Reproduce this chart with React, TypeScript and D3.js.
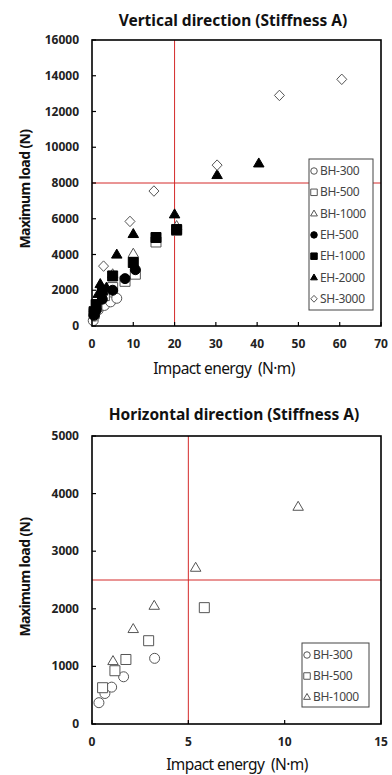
import React from "react";
import * as d3 from "d3";

type Pt = [number, number];

// ---- Top chart data (Vertical direction) ----
const topSeriesNames = ["BH-300", "BH-500", "BH-1000", "EH-500", "EH-1000", "EH-2000", "SH-3000"];
const topBH300: Pt[] = [[0.3, 300], [0.6, 550], [1.5, 900], [3, 1150], [4.5, 1350], [6, 1550]];
const topBH500: Pt[] = [[0.5, 700], [1.2, 1100], [3, 1700], [5, 2150], [8, 2500], [10.5, 2900], [15.5, 4700], [20.5, 5350]];
const topBH1000: Pt[] = [[0.8, 900], [2, 1500], [3, 2000], [5, 2900], [10, 4050], [20.5, 5600]];
const topEH500: Pt[] = [[0.5, 600], [1, 900], [2.5, 1500], [5, 2000], [8, 2650], [10.5, 3150]];
const topEH1000: Pt[] = [[0.5, 800], [1, 1200], [2.5, 2000], [5, 2800], [10, 3550], [15.5, 4950], [20.5, 5400]];
const topEH2000: Pt[] = [[0.6, 1000], [1.5, 1800], [2, 2350], [3.5, 2150], [6, 4000], [10, 5150], [20, 6250], [30.3, 8450], [40.4, 9100]];
const topSH3000: Pt[] = [[2.8, 3350], [9.2, 5850], [15, 7550], [30.3, 9000], [45.4, 12900], [60.5, 13800]];
const topXTicks = [0, 10, 20, 30, 40, 50, 60, 70];
const topYTicks = [0, 2000, 4000, 6000, 8000, 10000, 12000, 14000, 16000];
const topRefX = 20;
const topRefY = 8000;

// ---- Bottom chart data (Horizontal direction) ----
const botSeriesNames = ["BH-300", "BH-500", "BH-1000"];
const botBH300: Pt[] = [[0.36, 370], [0.67, 530], [1.02, 640], [1.64, 820], [3.25, 1140]];
const botBH500: Pt[] = [[0.55, 630], [1.19, 925], [1.76, 1120], [2.94, 1446], [5.83, 2020]];
const botBH1000: Pt[] = [[1.09, 1094], [2.14, 1650], [3.23, 2054], [5.38, 2714], [10.7, 3773]];
const botXTicks = [0, 5, 10, 15];
const botYTicks = [0, 1000, 2000, 3000, 4000, 5000];
const botRefX = 5;
const botRefY = 2500;

type Shape = "circle" | "square" | "triangle" | "diamond";
const styleFor: Record<string, { shape: Shape; filled: boolean }> = {
  "BH-300": { shape: "circle", filled: false },
  "BH-500": { shape: "square", filled: false },
  "BH-1000": { shape: "triangle", filled: false },
  "EH-500": { shape: "circle", filled: true },
  "EH-1000": { shape: "square", filled: true },
  "EH-2000": { shape: "triangle", filled: true },
  "SH-3000": { shape: "diamond", filled: false },
};

function markerPath(shape: Shape, s: number): string {
  const h = s / 2;
  if (shape === "circle") {
    const p = d3.path();
    p.arc(0, 0, h, 0, Math.PI * 2);
    p.closePath();
    return p.toString();
  }
  if (shape === "square") return `M${-h},${-h}H${h}V${h}H${-h}Z`;
  if (shape === "triangle") {
    const th = s * 0.9;
    return `M0,${-th * 0.6}L${h * 1.05},${th * 0.4}L${-h * 1.05},${th * 0.4}Z`;
  }
  return `M0,${-h * 1.05}L${h},0L0,${h * 1.05}L${-h},0Z`;
}

function Marker({ name, x, y, s }: { name: string; x: number; y: number; s: number }) {
  const st = styleFor[name];
  return (
    <path
      d={markerPath(st.shape, s)}
      transform={`translate(${x},${y})`}
      fill={st.filled ? "#000" : "#fff"}
      stroke={st.filled ? "#000" : "#555"}
      strokeWidth={1}
    />
  );
}

interface PanelProps {
  title: string;
  titleY: number;
  titleX: number;
  left: number;
  right: number;
  top: number;
  bottom: number;
  xMax: number;
  yMax: number;
  xTicks: number[];
  yTicks: number[];
  refX: number;
  refY: number;
  series: { name: string; pts: Pt[] }[];
  legend: { x: number; y: number; w: number; h: number; step: number };
  xLabelX: number;
  xLabelY: number;
  yLabelY: number;
}

function Panel(p: PanelProps) {
  const x = d3.scaleLinear().domain([0, p.xMax]).range([p.left, p.right]);
  const y = d3.scaleLinear().domain([0, p.yMax]).range([p.bottom, p.top]);
  const font = "'Noto Sans', 'Open Sans', sans-serif";
  return (
    <g>
      <text x={p.titleX} y={p.titleY} textAnchor="middle" fontFamily={font} fontWeight="bold" fontSize={15.5} fill="#111">
        {p.title}
      </text>
      {/* reference lines */}
      <line x1={x(p.refX)} x2={x(p.refX)} y1={p.top} y2={p.bottom} stroke="#d42a2a" strokeWidth={1} />
      <line x1={p.left} x2={p.right} y1={y(p.refY)} y2={y(p.refY)} stroke="#d42a2a" strokeWidth={1} />
      {/* ticks */}
      {p.xTicks.map((t) => (
        <g key={"xt" + t}>
          <line x1={x(t)} x2={x(t)} y1={p.bottom} y2={p.bottom - 4} stroke="#000" strokeWidth={1.2} />
          <text x={x(t)} y={p.bottom + 22} textAnchor="middle" fontFamily={font} fontWeight="bold" fontSize={12} fill="#222">
            {t}
          </text>
        </g>
      ))}
      {p.yTicks.map((t) => (
        <g key={"yt" + t}>
          <line x1={p.left} x2={p.left + 4} y1={y(t)} y2={y(t)} stroke="#000" strokeWidth={1.2} />
          <text x={p.left - 13} y={y(t) + 4} textAnchor="end" fontFamily={font} fontWeight="bold" fontSize={12} fill="#222">
            {t}
          </text>
        </g>
      ))}
      {/* markers */}
      {p.series.map((s) =>
        s.pts.map((d, i) => <Marker key={s.name + i} name={s.name} x={x(d[0])} y={y(d[1])} s={10} />)
      )}
      {/* frame */}
      <rect x={p.left} y={p.top} width={p.right - p.left} height={p.bottom - p.top} fill="none" stroke="#000" strokeWidth={1.6} />
      {/* legend */}
      <rect x={p.legend.x} y={p.legend.y} width={p.legend.w} height={p.legend.h} fill="#fff" stroke="#444" strokeWidth={1} />
      {p.series.map((s, i) => {
        const ly = p.legend.y + 12 + i * p.legend.step;
        return (
          <g key={"lg" + s.name}>
            <Marker name={s.name} x={p.legend.x + 5} y={ly} s={6.5} />
            <text x={p.legend.x + 11} y={ly + 4} fontFamily={font} fontSize={12} fill="#444" letterSpacing={-0.3}>
              {s.name}
            </text>
          </g>
        );
      })}
      {/* axis labels */}
      <text x={p.xLabelX} y={p.xLabelY} textAnchor="middle" fontFamily={font} fontSize={15.5} fill="#111" letterSpacing={-0.6} style={{ whiteSpace: "pre" }}>
        {"Impact energy  (N·m)"}
      </text>
      <text
        transform={`translate(30,${p.yLabelY}) rotate(-90)`}
        textAnchor="middle"
        fontFamily={font}
        fontWeight="bold"
        fontSize={14}
        fill="#111"
        letterSpacing={-0.6}
      >
        Maximum load (N)
      </text>
    </g>
  );
}

export default function App() {
  const topData = [topBH300, topBH500, topBH1000, topEH500, topEH1000, topEH2000, topSH3000];
  const botData = [botBH300, botBH500, botBH1000];
  return (
    <svg width={392} height={775} style={{ position: "absolute", left: 0, top: 0, background: "#fff" }}>
      <rect width={392} height={775} fill="#fff" />
      <Panel
        title="Vertical direction (Stiffness A)"
        titleX={233}
        titleY={26}
        left={92}
        right={381}
        top={40}
        bottom={326}
        xMax={70}
        yMax={16000}
        xTicks={topXTicks}
        yTicks={topYTicks}
        refX={topRefX}
        refY={topRefY}
        series={topSeriesNames.map((n, i) => ({ name: n, pts: topData[i] }))}
        legend={{ x: 309, y: 159, w: 64, h: 151, step: 21.3 }}
        xLabelX={224}
        xLabelY={374}
        yLabelY={189}
      />
      <Panel
        title="Horizontal direction (Stiffness A)"
        titleX={234}
        titleY={420}
        left={92}
        right={381}
        top={436}
        bottom={724}
        xMax={15}
        yMax={5000}
        xTicks={botXTicks}
        yTicks={botYTicks}
        refX={botRefX}
        refY={botRefY}
        series={botSeriesNames.map((n, i) => ({ name: n, pts: botData[i] }))}
        legend={{ x: 302, y: 643, w: 67, h: 64, step: 21 }}
        xLabelX={237}
        xLabelY={770}
        yLabelY={577}
      />
    </svg>
  );
}
